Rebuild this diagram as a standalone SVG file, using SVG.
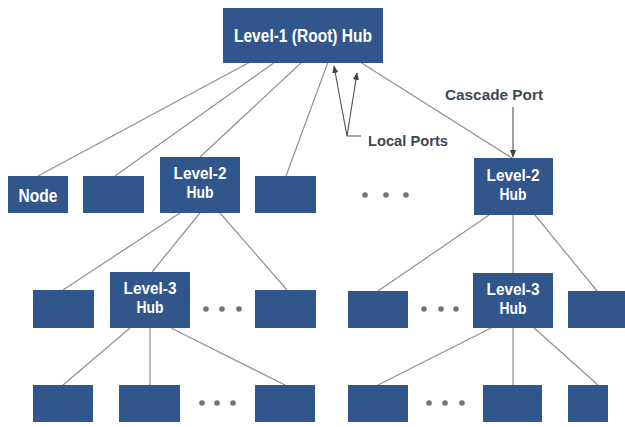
<svg xmlns="http://www.w3.org/2000/svg" width="625" height="427" viewBox="0 0 625 427">
<defs>
<style>
.box{fill:#30568b;}
.ln{stroke:#8c9196;stroke-width:1.2;fill:none;}
.lbl{font-family:"Liberation Sans",Arial,sans-serif;font-weight:bold;fill:#ffffff;text-anchor:middle;}
.cap{font-family:"Liberation Sans",Arial,sans-serif;font-weight:bold;fill:#3b4856;font-size:15.5px;}
.dot{fill:#6e747a;}
.arr{stroke:#4a525a;stroke-width:1.1;fill:none;}
</style>
<marker id="ah" viewBox="0 0 10 10" refX="9" refY="5" markerWidth="7" markerHeight="7" orient="auto-start-reverse">
<path d="M0,1 L10,5 L0,9 z" fill="#3b4450"/>
</marker>
</defs>
<rect width="625" height="427" fill="#ffffff"/>
<g id="connectors">
<line class="ln" x1="250" y1="62" x2="38" y2="176"/>
<line class="ln" x1="275" y1="62" x2="115" y2="176"/>
<line class="ln" x1="302" y1="62" x2="200" y2="157"/>
<line class="ln" x1="328" y1="62" x2="286" y2="176"/>
<line class="ln" x1="360" y1="62" x2="512" y2="158"/>
<line class="ln" x1="180" y1="213" x2="63" y2="290"/>
<line class="ln" x1="200" y1="213" x2="152" y2="272"/>
<line class="ln" x1="220" y1="213" x2="287" y2="290"/>
<line class="ln" x1="489" y1="215" x2="378" y2="291"/>
<line class="ln" x1="513" y1="215" x2="513" y2="273"/>
<line class="ln" x1="535" y1="215" x2="597" y2="291"/>
<line class="ln" x1="130" y1="328" x2="63" y2="385"/>
<line class="ln" x1="150" y1="328" x2="150" y2="385"/>
<line class="ln" x1="171" y1="328" x2="285" y2="385"/>
<line class="ln" x1="493" y1="327" x2="378" y2="385"/>
<line class="ln" x1="513" y1="327" x2="513" y2="385"/>
<line class="ln" x1="533" y1="327" x2="598" y2="385"/>
</g>
<g id="annotations">
<path class="arr" d="M361,136 L347,136 L334,66" marker-end="url(#ah)"/>
<path class="arr" d="M347,136 L357,73" marker-end="url(#ah)"/>
<text class="cap" x="368" y="146" textLength="80" lengthAdjust="spacingAndGlyphs">Local Ports</text>
<text class="cap" x="445" y="100" textLength="98" lengthAdjust="spacingAndGlyphs">Cascade Port</text>
<line class="arr" x1="513" y1="107" x2="513" y2="157" marker-end="url(#ah)"/>
</g>
<g id="root"><rect class="box" x="223" y="8" width="160" height="55"/><text class="lbl" x="303" y="42" font-size="18.5" textLength="138" lengthAdjust="spacingAndGlyphs">Level-1 (Root) Hub</text></g>
<g id="node"><rect class="box" x="8" y="176" width="60" height="37"/><text class="lbl" x="38" y="202" font-size="18" textLength="39" lengthAdjust="spacingAndGlyphs">Node</text></g>
<g id="n2a"><rect class="box" x="83" y="176" width="61" height="37"/></g>
<g id="hub2a"><rect class="box" x="160" y="157" width="80" height="56"/><text class="lbl" x="200" y="179" font-size="17" textLength="53" lengthAdjust="spacingAndGlyphs">Level-2</text><text class="lbl" x="200" y="198" font-size="17" textLength="27" lengthAdjust="spacingAndGlyphs">Hub</text></g>
<g id="n2b"><rect class="box" x="255" y="176" width="61" height="37"/></g>
<g id="dots2"><circle class="dot" cx="365" cy="195" r="2.8"/><circle class="dot" cx="386" cy="195" r="2.8"/><circle class="dot" cx="406" cy="195" r="2.8"/></g>
<g id="hub2b"><rect class="box" x="474" y="158" width="79" height="57"/><text class="lbl" x="513" y="181" font-size="17" textLength="53" lengthAdjust="spacingAndGlyphs">Level-2</text><text class="lbl" x="513" y="200" font-size="17" textLength="27" lengthAdjust="spacingAndGlyphs">Hub</text></g>
<g id="n3a"><rect class="box" x="33" y="290" width="61" height="38"/></g>
<g id="hub3a"><rect class="box" x="110" y="272" width="80" height="56"/><text class="lbl" x="150" y="294" font-size="17" textLength="53" lengthAdjust="spacingAndGlyphs">Level-3</text><text class="lbl" x="150" y="313" font-size="17" textLength="27" lengthAdjust="spacingAndGlyphs">Hub</text></g>
<g id="dots3a"><circle class="dot" cx="206" cy="309" r="2.8"/><circle class="dot" cx="222" cy="309" r="2.8"/><circle class="dot" cx="239" cy="309" r="2.8"/></g>
<g id="n3b"><rect class="box" x="255" y="290" width="61" height="38"/></g>
<g id="n3c"><rect class="box" x="348" y="291" width="60" height="37"/></g>
<g id="dots3b"><circle class="dot" cx="424" cy="309" r="2.8"/><circle class="dot" cx="441" cy="309" r="2.8"/><circle class="dot" cx="456" cy="309" r="2.8"/></g>
<g id="hub3b"><rect class="box" x="473" y="273" width="80" height="55"/><text class="lbl" x="513" y="295" font-size="17" textLength="53" lengthAdjust="spacingAndGlyphs">Level-3</text><text class="lbl" x="513" y="314" font-size="17" textLength="27" lengthAdjust="spacingAndGlyphs">Hub</text></g>
<g id="n3d"><rect class="box" x="568" y="291" width="57" height="37"/></g>
<g id="n4a"><rect class="box" x="33" y="385" width="60" height="37"/></g>
<g id="n4b"><rect class="box" x="119" y="385" width="61" height="37"/></g>
<g id="dots4a"><circle class="dot" cx="202" cy="403" r="2.8"/><circle class="dot" cx="217" cy="403" r="2.8"/><circle class="dot" cx="233" cy="403" r="2.8"/></g>
<g id="n4c"><rect class="box" x="255" y="385" width="60" height="37"/></g>
<g id="n4d"><rect class="box" x="348" y="385" width="60" height="37"/></g>
<g id="dots4b"><circle class="dot" cx="429" cy="403" r="2.8"/><circle class="dot" cx="445" cy="403" r="2.8"/><circle class="dot" cx="462" cy="403" r="2.8"/></g>
<g id="n4e"><rect class="box" x="483" y="385" width="59" height="37"/></g>
<g id="n4f"><rect class="box" x="568" y="385" width="40" height="37"/></g>
</svg>
